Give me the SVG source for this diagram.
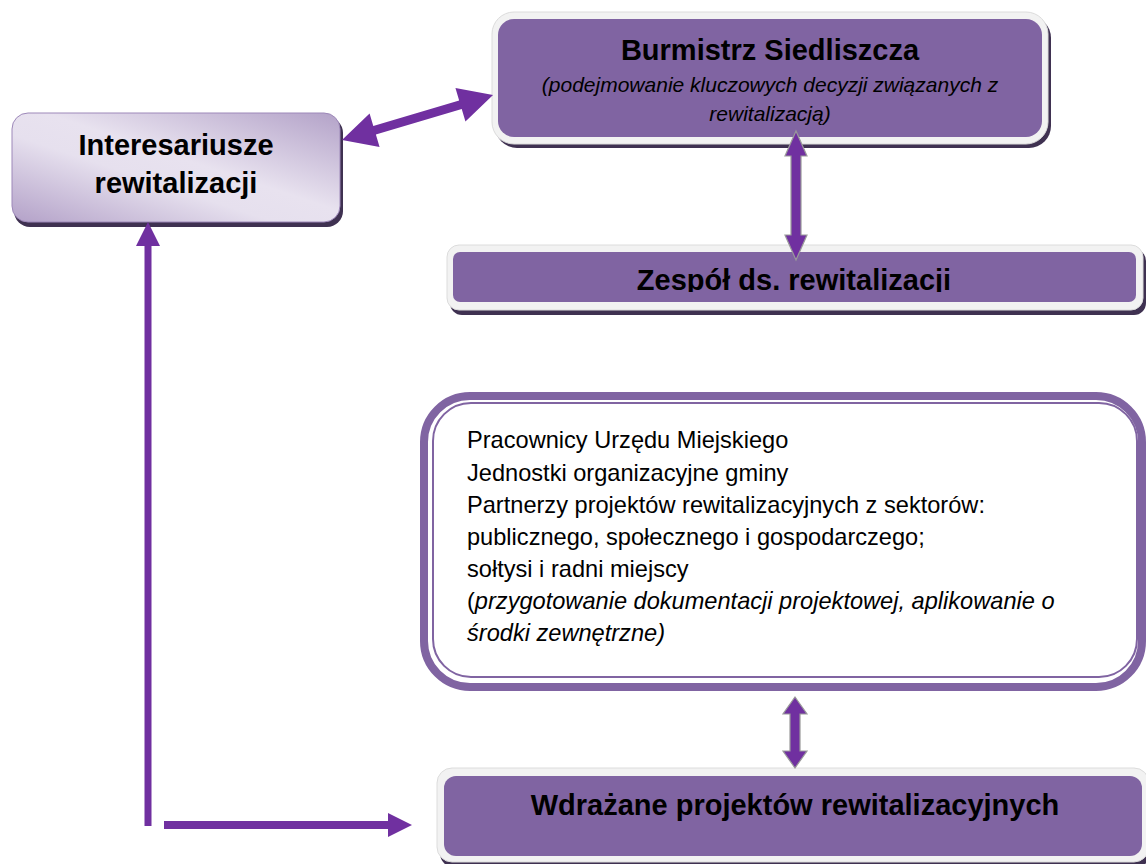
<svg xmlns="http://www.w3.org/2000/svg" width="1146" height="864" viewBox="0 0 1146 864">
<style>
.t{font-family:"Liberation Sans",Arial,sans-serif;fill:#000}
.b{font-weight:bold;font-size:29px;text-anchor:middle}
.it{font-style:italic}
.outer{fill:#f2f2f2;stroke:#dcdcdc;stroke-width:1}
.inner{fill:#8064a2}
.shadow{fill:#3f3151}
.arr{fill:#7030a0}
.arrg{fill:#7030a0;stroke:#9a9a9a;stroke-width:1.2}
</style>
<defs>
<linearGradient id="gInt" x1="1" y1="0" x2="0" y2="1">
<stop offset="0" stop-color="#b3a2c8"/>
<stop offset="0.45" stop-color="#e8e2ef"/>
<stop offset="0.6" stop-color="#e6e0ee"/>
<stop offset="1" stop-color="#b3a1c8"/>
</linearGradient>
<clipPath id="clipZ"><rect x="453" y="252" width="683" height="40"/></clipPath>
</defs>
<rect width="1146" height="864" fill="#fff"/>

<g id="interesariusze">
<rect class="shadow" x="14" y="117" width="329" height="110" rx="16"/>
<rect x="12" y="113" width="328" height="109" rx="16" fill="url(#gInt)" stroke="#9d88b9" stroke-width="1"/>
<text class="t b" x="176" y="155">Interesariusze</text>
<text class="t b" x="176" y="193">rewitalizacji</text>
</g>

<g id="burmistrz">
<rect class="shadow" x="495" y="16" width="556" height="132" rx="22"/>
<rect class="outer" x="492" y="12" width="556" height="132" rx="22"/>
<rect class="inner" x="498" y="19" width="544" height="118" rx="16"/>
<text class="t b" x="770" y="60">Burmistrz Siedliszcza</text>
<text class="t it" x="770" y="92" font-size="21" text-anchor="middle">(podejmowanie kluczowych decyzji związanych z</text>
<text class="t it" x="770" y="121" font-size="21" text-anchor="middle">rewitalizacją)</text>
</g>

<g id="zespol">
<rect class="shadow" x="450" y="249" width="696" height="66" rx="12"/>
<rect class="outer" x="447" y="245" width="696" height="65" rx="12"/>
<rect class="inner" x="453" y="252" width="683" height="50" rx="7"/>
<text class="t b" x="794" y="290" clip-path="url(#clipZ)">Zespół ds. rewitalizacji</text>
</g>

<g id="pracownicy">
<rect x="424" y="396" width="718" height="291" rx="46" fill="#fff" stroke="#8064a2" stroke-width="8"/>
<rect x="433" y="403" width="704" height="274" rx="38" fill="none" stroke="#8064a2" stroke-width="2"/>
<g class="t" font-size="23.6">
<text x="467" y="448">Pracownicy Urzędu Miejskiego</text>
<text x="467" y="481">Jednostki organizacyjne gminy</text>
<text x="467" y="513">Partnerzy projektów rewitalizacyjnych z sektorów:</text>
<text x="467" y="545">publicznego, społecznego i gospodarczego;</text>
<text x="467" y="577">sołtysi i radni miejscy</text>
<text x="467" y="609">(<tspan class="it">przygotowanie dokumentacji projektowej, aplikowanie o</tspan></text>
<text x="467" y="641" class="it">środki zewnętrzne)</text>
</g>
</g>

<g id="wdrazane">
<rect class="shadow" x="440" y="772" width="710" height="96" rx="15"/>
<rect class="outer" x="437" y="768" width="712" height="94" rx="15"/>
<rect class="inner" x="444" y="776" width="698" height="80" rx="12"/>
<text class="t b" x="795" y="815">Wdrażane projektów rewitalizacyjnych</text>
</g>

<g id="connectors">
<polygon class="arr" transform="translate(342,140) rotate(-16.6)" points="0,0 34,-17.5 34,-4.5 123.6,-4.5 123.6,-17.5 157.6,0 123.6,17.5 123.6,4.5 34,4.5 34,17.5"/>
<polygon class="arrg" points="796,131 807,156 801,156 801,235 807,235 796,260 785,235 791,235 791,156 785,156"/>
<polygon class="arrg" points="795,697 807,714 800,714 800,751 807,751 795,768 783,751 790,751 790,714 783,714"/>
<polygon class="arr" points="148,222 160,246 151.5,246 151.5,826 144.5,826 144.5,246 136,246"/>
<polygon class="arr" points="164,821 388,821 388,813 412,825 388,837 388,829 164,829"/>
</g>
</svg>
